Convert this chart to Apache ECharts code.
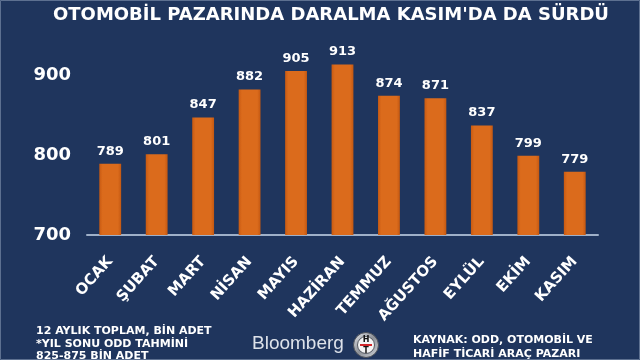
<!DOCTYPE html>
<html><head><meta charset="utf-8">
<script src="https://cdn.jsdelivr.net/npm/echarts@6/dist/echarts.min.js"></script>
<style>html,body{margin:0;padding:0;background:#1f355d;}#c{width:640px;height:360px;}</style>
</head><body><div id="c"></div>
<script>
const categories = ['OCAK','ŞUBAT','MART','NİSAN','MAYIS','HAZİRAN','TEMMUZ','AĞUSTOS','EYLÜL','EKİM','KASIM'];
const values = [789, 801, 847, 882, 905, 913, 874, 871, 837, 799, 779];
const titleText = "OTOMOBİL PAZARINDA DARALMA KASIM'DA DA SÜRDÜ";
const noteLines = ['12 AYLIK TOPLAM, BİN ADET', '*YIL SONU ODD TAHMİNİ', '825-875 BİN ADET'];
const sourceLines = ['KAYNAK: ODD, OTOMOBİL VE', 'HAFİF TİCARİ ARAÇ PAZARI'];

const F = 'DejaVu Sans';
const chart = echarts.init(document.getElementById('c'));
chart.setOption({
  backgroundColor: '#1f355d',
  animation: false,
  title: {
    text: titleText, left: 326, top: 1, textAlign: 'center',
    textStyle: { color: '#ffffff', fontFamily: F, fontWeight: 'bold', fontSize: 18 }
  },
  grid: { left: 87, right: 42, top: 35, bottom: 125 },
  xAxis: {
    type: 'category', data: categories,
    axisLine: { lineStyle: { color: '#9fb0c8', width: 2 } },
    axisTick: { show: false },
    axisLabel: { rotate: 48, color: '#ffffff', fontFamily: F, fontWeight: 'bold', fontSize: 15, margin: 24, interval: 0 }
  },
  yAxis: {
    type: 'value', min: 700, max: 950, interval: 100,
    splitLine: { show: false },
    axisLine: { show: false }, axisTick: { show: false },
    axisLabel: { color: '#ffffff', fontFamily: F, fontWeight: 'bold', fontSize: 18, margin: 16,
      formatter: v => (v % 100 === 0 ? String(v) : '') }
  },
  series: [{
    type: 'bar', data: values, barWidth: '47%',
    itemStyle: {
      color: new echarts.graphic.LinearGradient(0, 0, 1, 0, [
        { offset: 0, color: '#c85a12' }, { offset: 0.15, color: '#db6b1c' },
        { offset: 0.85, color: '#db6b1c' }, { offset: 1, color: '#c35812' }
      ])
    },
    label: { show: true, position: 'top', distance: 6, color: '#ffffff', fontFamily: F, fontWeight: 'bold', fontSize: 13 }
  }],
  graphic: [
    { type: 'rect', shape: { x: 0.5, y: 0.5, width: 639, height: 359 }, style: { fill: 'none', stroke: '#5d7090', lineWidth: 1 }, silent: true },
    { type: 'text', left: 36, top: 325, style: { text: noteLines.join('\n'), fill: '#ffffff', font: 'bold 11px "DejaVu Sans"', lineHeight: 12.5 } },
    { type: 'text', left: 413, top: 333, style: { text: sourceLines.join('\n'), fill: '#ffffff', font: 'bold 11px "DejaVu Sans"', lineHeight: 14 } },
    { type: 'text', left: 252, top: 334, style: { text: 'Bloomberg', fill: '#dde2ea', font: '19px "Liberation Sans"' } },
    { type: 'circle', shape: { cx: 366, cy: 345, r: 12.5 }, style: {
        fill: new echarts.graphic.LinearGradient(0, 0, 1, 1, [{ offset: 0, color: '#e8eaed' }, { offset: 0.5, color: '#8c9097' }, { offset: 1, color: '#d5d8dc' }]),
        stroke: '#4a4f58', lineWidth: 1 } },
    { type: 'circle', shape: { cx: 366, cy: 345, r: 8.5 }, style: { fill: '#f4f4f4', stroke: '#555a62', lineWidth: 1 } },
    { type: 'text', x: 366, y: 340, style: { text: 'H', fill: '#111111', font: 'bold 8px "DejaVu Sans"', align: 'center', verticalAlign: 'middle' } },
    { type: 'rect', shape: { x: 360, y: 344, width: 12, height: 2 }, style: { fill: '#d0262a' } },
    { type: 'text', x: 366, y: 350.5, style: { text: 'T', fill: '#111111', font: 'bold 8px "DejaVu Sans"', align: 'center', verticalAlign: 'middle' } }
  ]
});
</script></body></html>
